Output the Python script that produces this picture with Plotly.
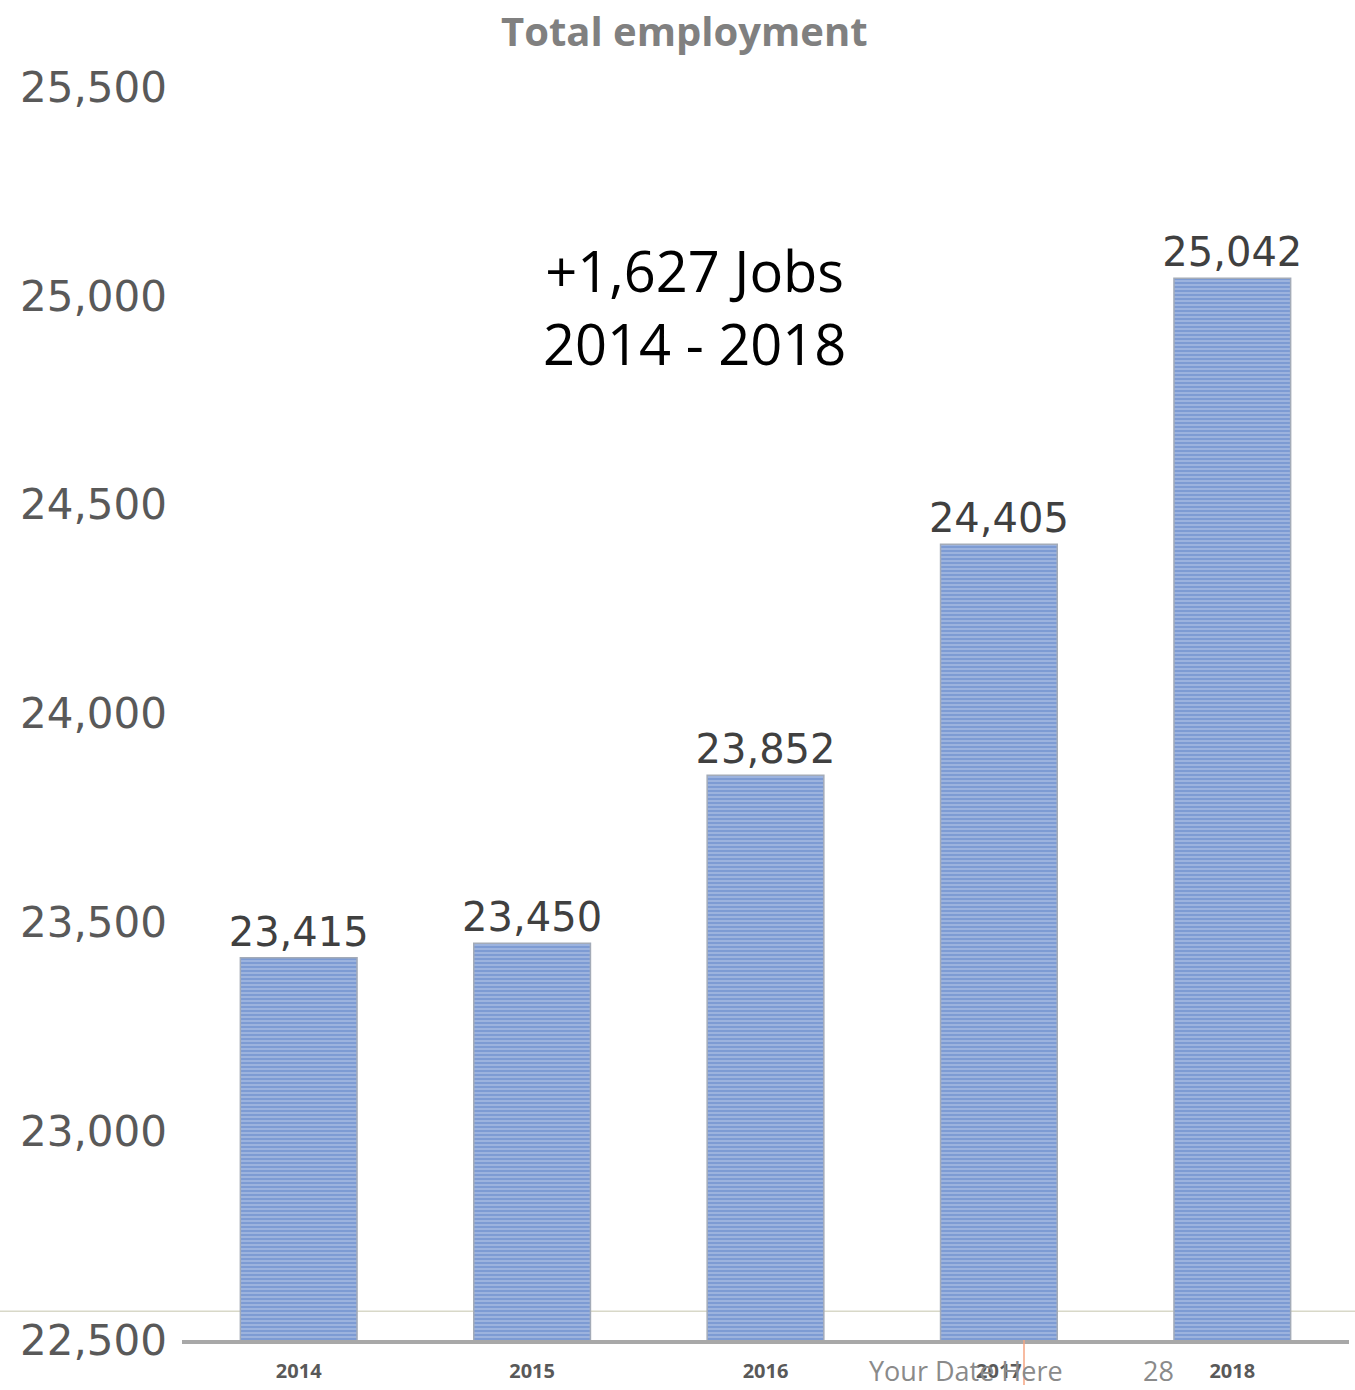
import plotly.graph_objects as go

years = ["2014", "2015", "2016", "2017", "2018"]
employment = [23415, 23450, 23852, 24405, 25042]
y_ticks = [22500, 23000, 23500, 24000, 24500, 25000, 25500]
y_tick_labels = ["22,500", "23,000", "23,500", "24,000", "24,500", "25,000", "25,500"]

fig = go.Figure()
fig.add_trace(go.Bar(
    x=years,
    y=employment,
    width=0.5,
    marker=dict(
        color="#7d9bd3",
        line=dict(color="#a3abb8", width=1.5),
        pattern=dict(shape="-", fgcolor="#d6e0f3", bgcolor="#7d9bd3", size=4, solidity=0.35),
    ),
    text=[f"{v:,}" for v in employment],
    textposition="outside",
    constraintext="none",
    textfont=dict(family="DejaVu Sans", size=40, color="#404040"),
    cliponaxis=False,
))

fig.update_layout(
    width=1355, height=1390,
    margin=dict(l=182, r=6, t=87, b=35),
    paper_bgcolor="white", plot_bgcolor="white",
    showlegend=False,
    bargap=0.5,
    title=dict(text="<b>Total employment</b>", x=0.505, xanchor="center", y=0.977, yanchor="middle",
               font=dict(family="Open Sans", size=40, color="#808080")),
    xaxis=dict(
        showgrid=False, showline=True, linecolor="#a8a8a8", linewidth=4,
        ticks="", tickfont=dict(family="Open Sans", size=20, color="#595959", weight="bold"),
        ticklabelstandoff=10,
    ),
    yaxis=dict(
        range=[22500, 25500], showgrid=False, zeroline=False, showline=False,
        tickvals=y_ticks, ticktext=y_tick_labels, ticks="",
        tickfont=dict(family="DejaVu Sans", size=42, color="#595959"),
        ticklabelstandoff=14,
    ),
)

fig.add_annotation(
    text="+1,627 Jobs<br>2014 - 2018", xref="paper", yref="paper",
    x=0.439, y=0.825, xanchor="center", yanchor="middle", showarrow=False,
    font=dict(family="Open Sans", size=56, color="black"), align="center",
)

# slide footer overlay
fig.add_annotation(text="Your Date Here", xref="paper", yref="paper", x=0.0,
                   xshift=867 - 182, y=-0.024, xanchor="left", yanchor="middle", showarrow=False,
                   font=dict(family="Open Sans", size=27, color="#8a8a8a"))
fig.add_annotation(text="28", xref="paper", yref="paper", x=0.0,
                   xshift=1158 - 182, y=-0.024, xanchor="center", yanchor="middle", showarrow=False,
                   font=dict(family="Open Sans", size=27, color="#8a8a8a"))
fig.add_shape(type="line", xref="paper", yref="paper", x0=(1024 - 182) / 1167, x1=(1024 - 182) / 1167,
              y0=0, y1=-0.036, line=dict(color="#f4a582", width=1.5))
fig.add_shape(type="line", xref="paper", yref="y", x0=-0.16, x1=1.01, y0=22569, y1=22569,
              line=dict(color="#d8d8c8", width=1.5), layer="below")

fig.write_html("out.html")
